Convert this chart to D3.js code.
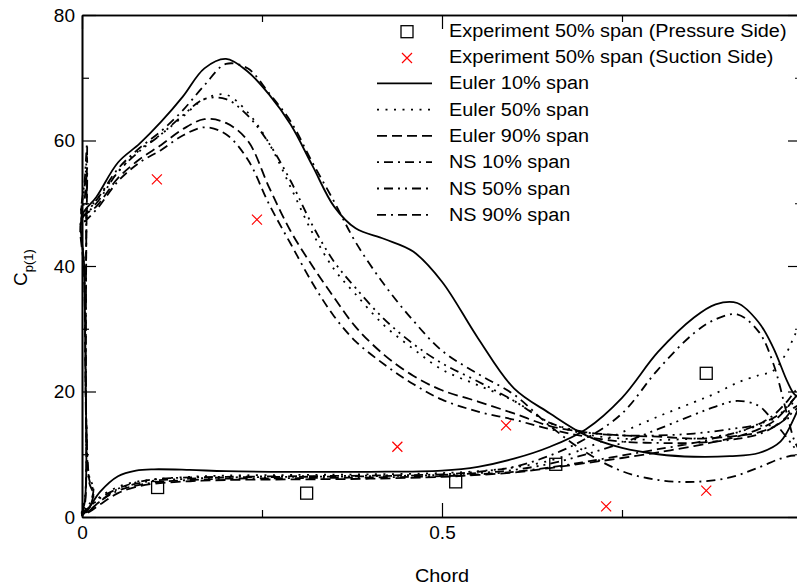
<!DOCTYPE html>
<html>
<head>
<meta charset="utf-8">
<script src="https://cdn.jsdelivr.net/npm/d3@7"></script>
<style>
body { margin: 0; background: #fff; }
svg { display: block; }
svg text { font-family: "Liberation Sans", Arial, sans-serif; }
</style>
</head>
<body>
<script>
// chord stations (upper branch / lower branch)
var upperChord = [0, 0.02, 0.05, 0.08, 0.11, 0.14, 0.17, 0.2, 0.23, 0.26, 0.29, 0.32, 0.35, 0.38, 0.42, 0.46, 0.5, 0.55, 0.6, 0.65, 0.7, 0.75, 0.8, 0.85, 0.9, 0.94, 0.97, 0.99, 1.0];
var lowerChord = [0, 0.01, 0.025, 0.05, 0.075, 0.1, 0.15, 0.2, 0.3, 0.4, 0.5, 0.55, 0.6, 0.65, 0.7, 0.75, 0.8, 0.85, 0.88, 0.91, 0.94, 0.96, 0.98, 0.99, 1.0];

var euler10Upper = [48, 51, 56.5, 59.5, 63, 67, 71.5, 73, 71, 67.3, 62.5, 56, 49.5, 46, 44.3, 42.3, 37.5, 28.5, 20.5, 16.5, 13, 11, 10, 9.6, 9.7, 10.2, 12, 16, 19];
var euler50Upper = [48, 50.5, 55, 58.5, 61, 63.8, 66.6, 67.3, 64.5, 59.5, 52.5, 45.3, 39.5, 35.5, 30.5, 26.8, 23.5, 21, 18.5, 15, 13.2, 12.5, 12.3, 12.5, 13.2, 14.5, 15, 19, 22];
var euler90Upper = [47.5, 49.5, 54, 57, 59.3, 61.8, 63.4, 62.8, 60, 52.5, 45.5, 40, 35, 30.3, 25.8, 22.5, 20.2, 18.4, 16.5, 14.5, 13.5, 13, 12.8, 12.5, 12.8, 13.5, 15, 17.5, 18];
var ns10Upper = [48, 50.5, 55.5, 58.8, 61.5, 64.8, 68.8, 72.2, 71.5, 67.5, 63, 56.5, 50.3, 43.8, 37, 31.3, 26.5, 22.8, 19.5, 14.5, 10.3, 7.3, 5.9, 5.6, 6.3, 7.9, 9.3, 9.8, 9.5];
var ns50Upper = [48, 50, 55, 58.3, 61, 64, 66.6, 66.6, 64, 59.5, 53.5, 46.5, 40.7, 36.5, 31.5, 27.6, 24.5, 21.6, 18.5, 15, 13.5, 13, 13, 13.3, 14, 14.8, 16.5, 19, 20];
var ns90Upper = [47, 49, 53.5, 56.5, 58.5, 60.8, 62.1, 61, 57, 49.8, 43.5, 37.3, 32, 28, 24.3, 21.2, 18.7, 16.8, 15.5, 14, 12.8, 12, 11.8, 11.8, 12.3, 13.2, 15, 17, 18];

var euler10Lower = [0.3, 1.5, 4, 6.5, 7.4, 7.6, 7.5, 7.3, 7.2, 7.2, 7.4, 8, 9.3, 11.2, 14, 19, 26.3, 31.8, 33.9, 34.1, 31, 27, 21.5, 19.5, 19];
var euler50Lower = [0.5, 1.5, 3.2, 4.8, 5.6, 6, 6.4, 6.6, 6.7, 6.8, 7, 7.3, 7.9, 9, 11, 13.5, 16, 18.3, 19.7, 21.4, 22.6, 23.3, 26.5, 29, 31];
var euler90Lower = [0.3, 0.8, 2, 3.8, 4.8, 5.3, 5.7, 5.9, 6, 6.1, 6.4, 6.7, 7.1, 7.8, 8.6, 9.4, 10.3, 11.3, 12, 12.8, 14, 15.2, 17.5, 19, 20];
var ns10Lower = [0.5, 1, 2.5, 4.5, 5.5, 6, 6.3, 6.4, 6.5, 6.6, 6.8, 7.2, 8, 9.8, 12.5, 16.5, 23.5, 29.3, 31.5, 32.3, 29.5, 24.5, 16, 12, 10];
var ns50Lower = [0.8, 1.5, 3, 4.5, 5.3, 5.8, 6.1, 6.3, 6.4, 6.5, 6.7, 7, 7.5, 8.5, 10, 11.8, 14, 16.3, 17.6, 18.5, 17.7, 15.3, 12.5, 11, 10];
var ns90Lower = [0.5, 1, 2.5, 4.2, 5, 5.5, 5.9, 6.1, 6.2, 6.3, 6.5, 6.8, 7.2, 7.9, 8.8, 9.8, 10.8, 11.8, 12.6, 13.5, 14.8, 16.2, 18.5, 20, 21];

// leading edge pieces
var eulerLeChord = [0.003, 0.005, 0.006, 0.004];
var euler10Le = [40, 22, 8, 2.5];
var euler50Le = [40, 22, 8, 3];
var euler90Le = [39, 20, 7, 2];
var nsLeChord = [0.004, 0.007, 0.006, 0.006, 0.01, 0.016, 0.01];
var ns10Le = [54, 59.5, 48, 15, 5.5, 3.5, 1.5];
var ns50Le = [53, 57.5, 46, 15, 6.5, 4.5, 2];
var ns90Le = [51, 55, 44, 15, 6, 4, 1.5];

// experiment
var pressureChord = [0.105, 0.312, 0.519, 0.658, 0.867];
var pressureCp = [4.7, 3.8, 5.6, 8.4, 22.9];
var suctionChord = [0.104, 0.243, 0.438, 0.589, 0.728, 0.867];
var suctionCp = [53.8, 47.4, 11.2, 14.6, 1.7, 4.2];

var seriesNames = ["Euler 10% span", "Euler 50% span", "Euler 90% span", "NS 10% span", "NS 50% span", "NS 90% span"];
var seriesDash = ["none", "2,6.5", "10,5", "2,5,9,5", "2,5,9,5,2,5", "9,5,2,5,9,5"];

var series = [
  {up: euler10Upper, le: euler10Le, leChord: eulerLeChord, low: euler10Lower},
  {up: euler50Upper, le: euler50Le, leChord: eulerLeChord, low: euler50Lower},
  {up: euler90Upper, le: euler90Le, leChord: eulerLeChord, low: euler90Lower},
  {up: ns10Upper, le: ns10Le, leChord: nsLeChord, low: ns10Lower},
  {up: ns50Upper, le: ns50Le, leChord: nsLeChord, low: ns50Lower},
  {up: ns90Upper, le: ns90Le, leChord: nsLeChord, low: ns90Lower}
];

var width = 797, height = 588;
var font = "'Liberation Sans', Arial, sans-serif";
var stretch = 1.045; // text in the original is drawn a little wide
var svg = d3.select("body").append("svg")
  .attr("width", width)
  .attr("height", height);

var x = d3.scaleLinear().domain([0, 1]).range([82, 802]);
var y = d3.scaleLinear().domain([0, 80]).range([517, 15]);

var line = d3.line()
  .x(function(d) { return x(d[0]); })
  .y(function(d) { return y(d[1]); })
  .curve(d3.curveCatmullRom.alpha(0.5));

// curves
series.forEach(function(s, i) {
  var pts = [];
  for (var k = upperChord.length - 1; k >= 0; k--) pts.push([upperChord[k], s.up[k]]);
  for (var k = 0; k < s.le.length; k++) pts.push([s.leChord[k], s.le[k]]);
  for (var k = 0; k < lowerChord.length; k++) pts.push([lowerChord[k], s.low[k]]);
  svg.append("path")
    .attr("d", line(pts))
    .attr("fill", "none")
    .attr("stroke", "#000")
    .attr("stroke-width", 1.8)
    .attr("stroke-dasharray", seriesDash[i]);
});

// experiment markers
svg.selectAll("rect.exp").data(pressureChord)
  .enter().append("rect")
  .attr("class", "exp")
  .attr("x", function(d) { return x(d) - 6; })
  .attr("y", function(d, i) { return y(pressureCp[i]) - 6; })
  .attr("width", 12)
  .attr("height", 12)
  .attr("fill", "none")
  .attr("stroke", "#000")
  .attr("stroke-width", 1.3);

function cross(g, cx, cy) {
  g.append("path")
    .attr("d", "M" + (cx - 5) + "," + (cy - 5) + "L" + (cx + 5) + "," + (cy + 5) +
               "M" + (cx - 5) + "," + (cy + 5) + "L" + (cx + 5) + "," + (cy - 5))
    .attr("stroke", "#ff0000")
    .attr("stroke-width", 1.2)
    .attr("fill", "none");
}
suctionChord.forEach(function(c, i) { cross(svg, x(c), y(suctionCp[i])); });

// axes
function styleAxis(g) {
  g.attr("font-family", font).attr("font-size", 19);
  g.selectAll("path.domain").attr("stroke", "#000").attr("stroke-width", 1.6);
  g.selectAll(".tick line").attr("stroke", "#000").attr("stroke-width", 1.2);
  g.selectAll("text").attr("fill", "#000");
}
var fmt = function(d) { return d === 0 ? "0" : String(d); };

svg.append("g").attr("transform", "translate(0,517)")
  .call(d3.axisBottom(x).tickValues([0, 0.5, 1]).tickSize(-14).tickSizeOuter(0).tickPadding(8.5).tickFormat(function(d) { return d === 1 ? "" : fmt(d); }))
  .call(styleAxis);
svg.append("g").attr("transform", "translate(0,517)")
  .call(d3.axisBottom(x).tickValues([0.25, 0.75]).tickSize(-7).tickSizeOuter(0).tickFormat(""))
  .call(styleAxis);
svg.append("g").attr("transform", "translate(0,15)")
  .call(d3.axisTop(x).tickValues([0, 0.5, 1]).tickSize(-14).tickSizeOuter(0).tickFormat(""))
  .call(styleAxis);
svg.append("g").attr("transform", "translate(0,15)")
  .call(d3.axisTop(x).tickValues([0.25, 0.75]).tickSize(-7).tickSizeOuter(0).tickFormat(""))
  .call(styleAxis);

svg.append("g").attr("transform", "translate(82,0)")
  .call(d3.axisLeft(y).tickValues([0, 20, 40, 60, 80]).tickSize(-14).tickSizeOuter(0).tickPadding(7).tickFormat(fmt))
  .call(styleAxis);
svg.append("g").attr("transform", "translate(82,0)")
  .call(d3.axisLeft(y).tickValues([10, 30, 50, 70]).tickSize(-7).tickSizeOuter(0).tickFormat(""))
  .call(styleAxis);
svg.append("g").attr("transform", "translate(802,0)")
  .call(d3.axisRight(y).tickValues([0, 20, 40, 60, 80]).tickSize(-14).tickSizeOuter(0).tickFormat(""))
  .call(styleAxis);
svg.append("g").attr("transform", "translate(802,0)")
  .call(d3.axisRight(y).tickValues([10, 30, 50, 70]).tickSize(-7).tickSizeOuter(0).tickFormat(""))
  .call(styleAxis);

// axis titles
svg.append("text")
  .attr("transform", "translate(442,582) scale(" + stretch + ",1)")
  .attr("text-anchor", "middle")
  .attr("font-family", font)
  .attr("font-size", 19)
  .text("Chord");

var ylab = svg.append("text")
  .attr("transform", "translate(27,286) rotate(-90)")
  .attr("font-family", font)
  .attr("font-size", 19);
ylab.append("tspan").attr("font-family", font).text("C");
ylab.append("tspan").attr("dy", 6).attr("font-family", font).attr("font-size", 13).text("p(1)");

// legend
var legendNames = ["Experiment 50% span (Pressure Side)", "Experiment 50% span (Suction Side)"].concat(seriesNames);
var legend = svg.append("g");
legendNames.forEach(function(name, i) {
  var by = 36.7 + i * 26.3;
  legend.append("text")
    .attr("transform", "translate(449," + by + ") scale(" + stretch + ",1)")
    .attr("font-family", font)
    .attr("font-size", 19)
    .text(name);
  if (i === 0) {
    legend.append("rect")
      .attr("x", 401).attr("y", by - 11)
      .attr("width", 12).attr("height", 12)
      .attr("fill", "none").attr("stroke", "#000").attr("stroke-width", 1.3);
  } else if (i === 1) {
    cross(legend, 407, by - 5);
  } else {
    legend.append("line")
      .attr("x1", 377).attr("x2", 432)
      .attr("y1", by - 6).attr("y2", by - 6)
      .attr("stroke", "#000")
      .attr("stroke-width", 1.8)
      .attr("stroke-dasharray", seriesDash[i - 2]);
  }
});
</script>
</body>
</html>
